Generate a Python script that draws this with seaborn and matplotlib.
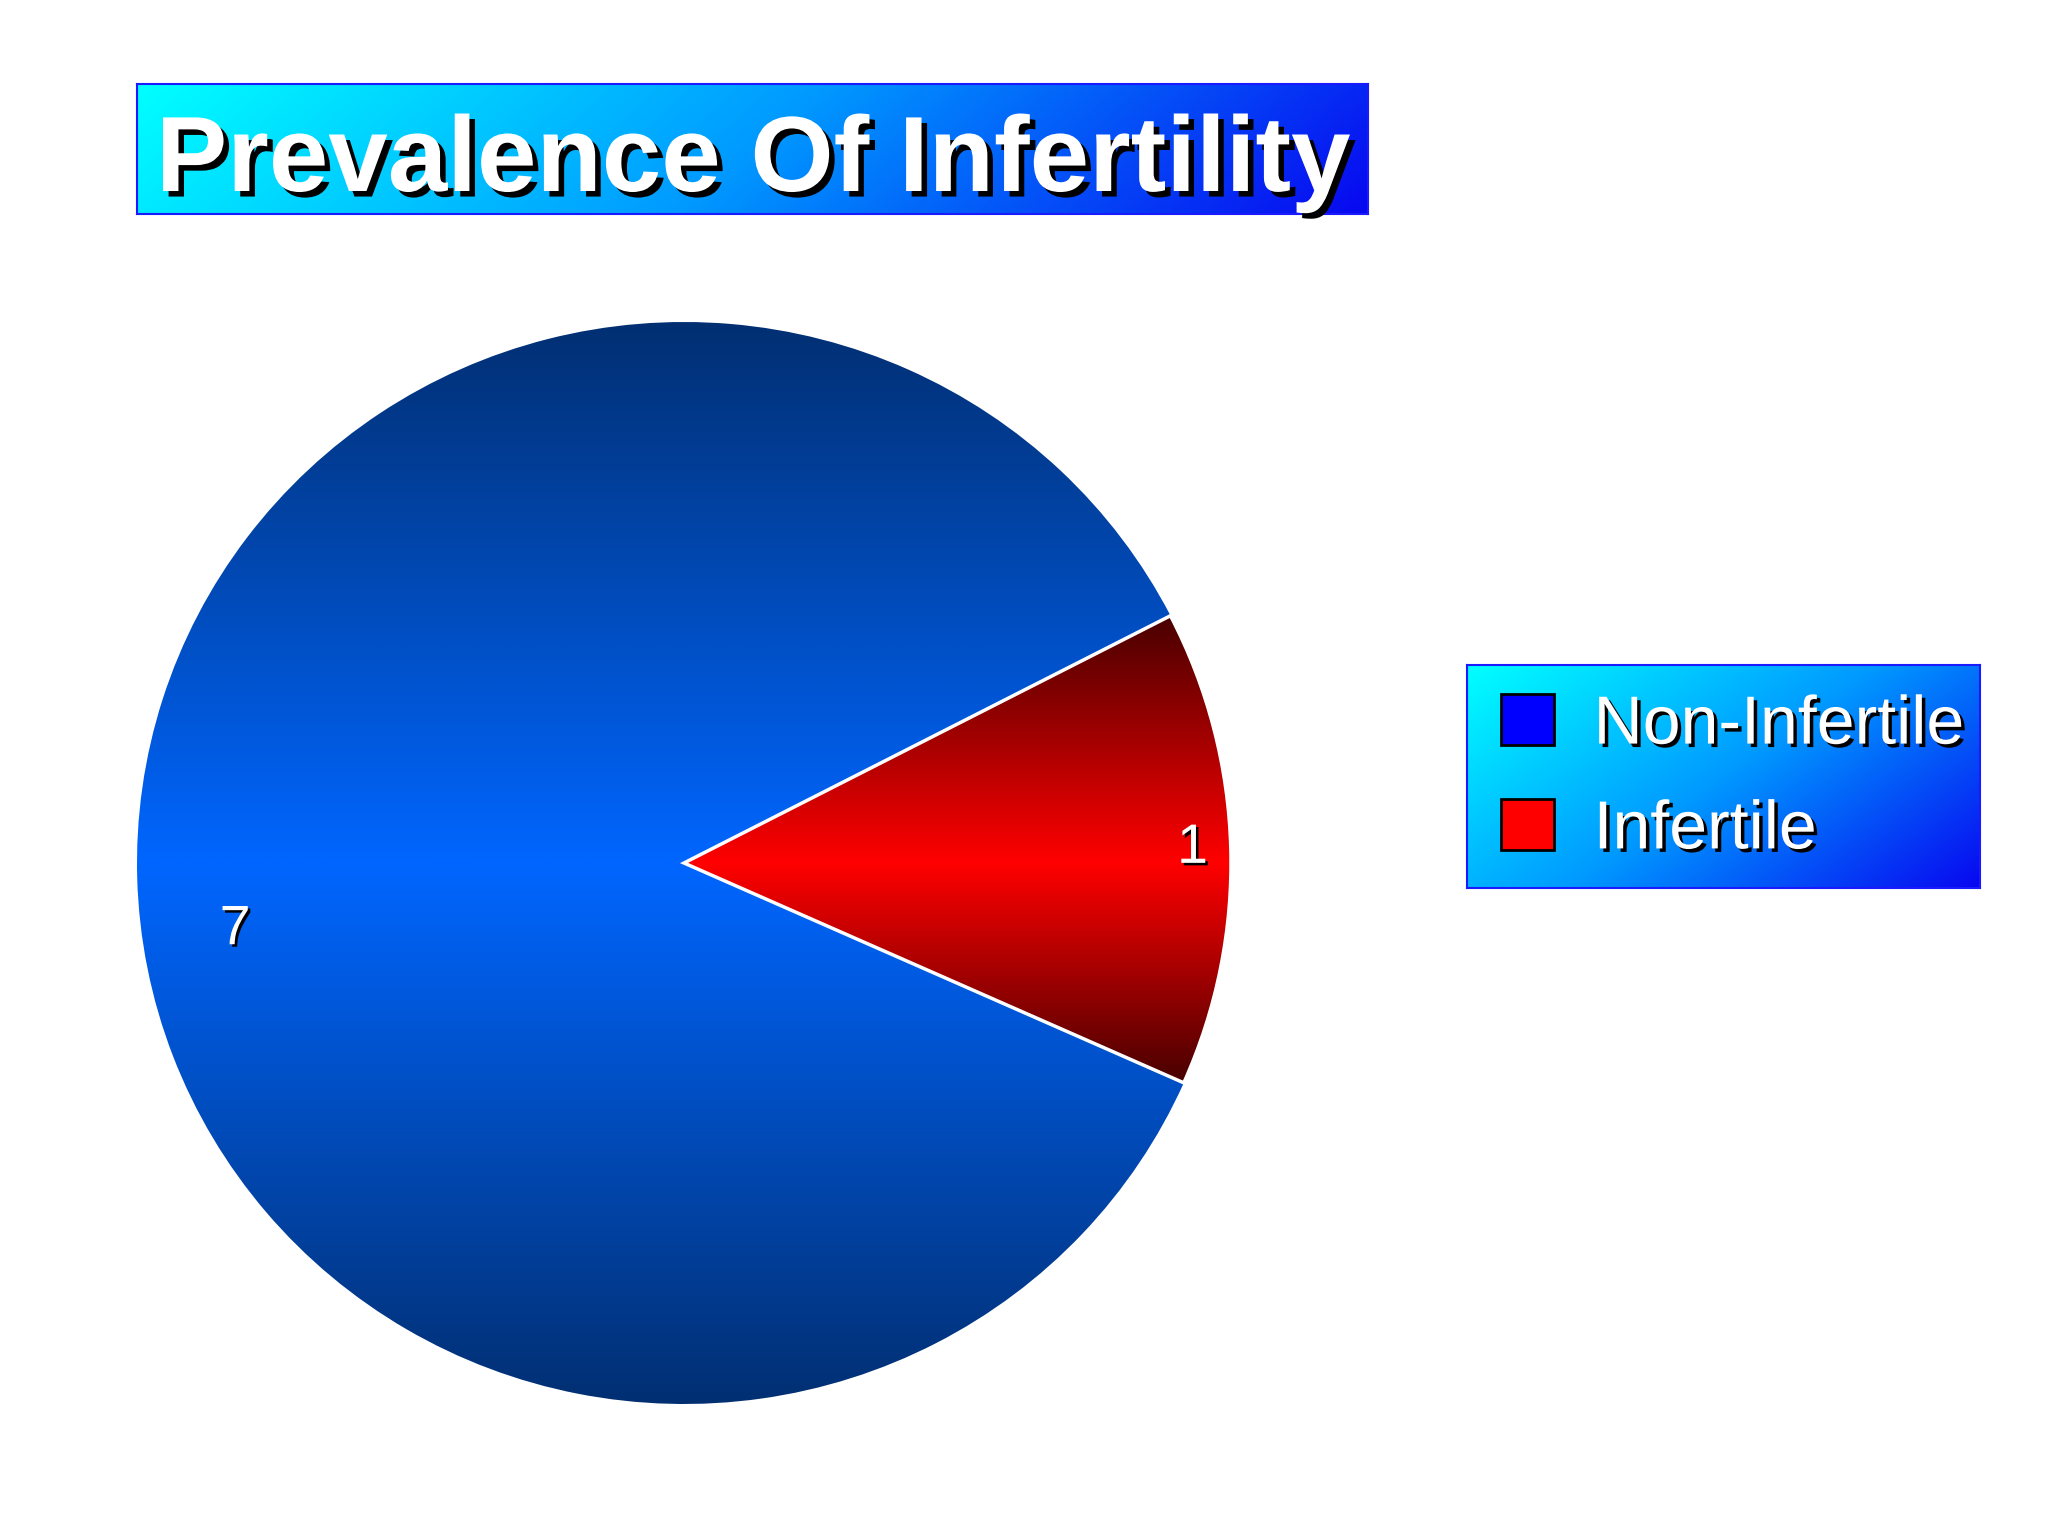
import numpy as np
import matplotlib
matplotlib.use('Agg')
import matplotlib.pyplot as plt
import seaborn as sns
from matplotlib.colors import LinearSegmentedColormap
from matplotlib.patches import Patch
import matplotlib.patheffects as pe

# ---- data ----
categories = ['Non-Infertile', 'Infertile']
values = [7.0, 1.16]
legend_colors = ['#0000ff', '#ff0000']
title = 'Prevalence Of Infertility'

sns.set_theme(style='white')
plt.rcParams['font.family'] = ['Liberation Sans', 'DejaVu Sans']

W, H = 2048, 1536
fig = plt.figure(figsize=(20.48, 15.36), dpi=100, facecolor='white')


def px_axes(x0, y0, x1, y1, zorder=0):
    return fig.add_axes([x0 / W, 1 - y1 / H, (x1 - x0) / W, (y1 - y0) / H], zorder=zorder)


def diag_box(x0, y0, x1, y1, wx, wy, colors):
    bax = px_axes(x0, y0, x1, y1)
    xs = np.linspace(0, 1, 400)
    ys = np.linspace(1, 0, 200)
    X, Y = np.meshgrid(xs, ys)
    T = (wx * X + wy * (1 - Y)) / (wx + wy)
    cmap = LinearSegmentedColormap.from_list('box', colors)
    bax.imshow(T, cmap=cmap, aspect='auto', extent=[0, 1, 0, 1], origin='upper', vmin=0, vmax=1)
    bax.set_xticks([]); bax.set_yticks([])
    for s in bax.spines.values():
        s.set_color('#1a1aff'); s.set_linewidth(1.5); s.set_visible(True)
    return bax


# ---- pie ----
cx, cy, rx, ry = 684, 863, 547, 541
ax = px_axes(cx - rx, cy - ry, cx + rx, cy + ry, zorder=1)
wedges, _ = ax.pie(values, colors=legend_colors, startangle=27.2, counterclock=True,
                   radius=1, wedgeprops=dict(linewidth=0))
ax.set_aspect('auto')
ax.set_xlim(-1, 1); ax.set_ylim(-1, 1)
ax.axis('off')

grad_specs = [('#022f72', '#0066ff'), ('#480000', '#ff0000')]
for w, (edge_c, mid_c) in zip(wedges, grad_specs):
    bb = w.get_path().get_extents()
    ylo, yhi = min(bb.y0, -1e-3), max(bb.y1, 1e-3)
    ys = np.linspace(ylo, yhi, 600)
    t = np.where(ys >= 0, ys / yhi, ys / ylo)
    cmap = LinearSegmentedColormap.from_list('g', [mid_c, edge_c])
    im = ax.imshow(t[:, None], cmap=cmap, vmin=0, vmax=1, aspect='auto',
                   extent=[-1, 1, ylo, yhi], origin='lower', zorder=2)
    im.set_clip_path(w)
    w.set_facecolor('none')
    w.set_zorder(3)
wedges[1].set_edgecolor('white')
wedges[1].set_linewidth(2.5)
ax.set_xlim(-1, 1); ax.set_ylim(-1, 1)

label_r = [0.83, 0.93]
label_dang = [7.0, 0.0]
for w, v, r, da in zip(wedges, values, label_r, label_dang):
    ang = np.deg2rad((w.theta1 + w.theta2) / 2 + da)
    ax.text(r * np.cos(ang), r * np.sin(ang), f'{v:.0f}', ha='center', va='center',
            fontsize=40, color='white', zorder=6,
            path_effects=[pe.withSimplePatchShadow(offset=(1.8, -1.8), shadow_rgbFace='black', alpha=1)])

# ---- title box ----
diag_box(137, 84, 1368, 214, 1.0, 0.12, ['#00ffff', '#0099ff', '#0808f0'])
fig.text(753 / W, 1 - 191 / H, title, ha='center', va='baseline', fontsize=77,
         fontweight='bold', color='white', zorder=10,
         path_effects=[pe.withSimplePatchShadow(offset=(4, -4), shadow_rgbFace='black', alpha=1)])

# ---- legend ----
diag_box(1467, 665, 1980, 888, 1.0, 0.6, ['#00ffff', '#0099ff', '#0808f0'])
handles = [Patch(facecolor=c, edgecolor='black', linewidth=2) for c in legend_colors]
leg = fig.legend(handles=handles, labels=categories, loc='center left',
                 bbox_to_anchor=(1501 / W, 1 - 778 / H), frameon=False, fontsize=49,
                 handlelength=0.78, handleheight=0.78, handletextpad=0.58, labelspacing=0.6,
                 borderpad=0, borderaxespad=0)
leg.set_zorder(10)
for txt in leg.get_texts():
    txt.set_color('white')
    txt.set_path_effects([pe.withSimplePatchShadow(offset=(2.5, -2.5), shadow_rgbFace='black', alpha=1)])

fig.savefig('out.png', dpi=100, facecolor='white')
